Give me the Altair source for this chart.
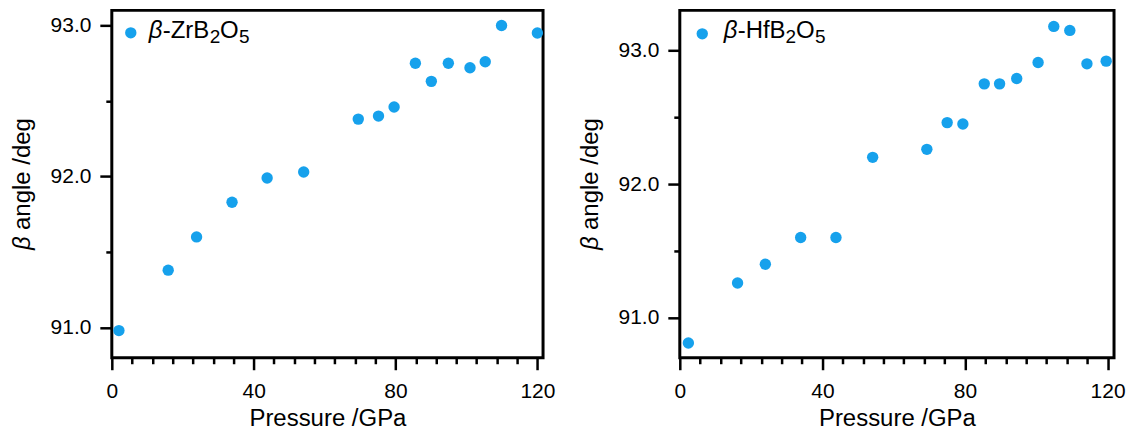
import altair as alt
import pandas as pd

# ---- data ----
zr_pressure = [2.0, 15.9, 23.9, 33.9, 43.8, 54.1, 69.5, 75.2, 79.6, 85.6, 90.1, 94.9, 101.0, 105.3, 109.9, 120.0]
zr_beta = [90.98, 91.38, 91.60, 91.83, 91.99, 92.03, 92.38, 92.40, 92.46, 92.75, 92.63, 92.75, 92.72, 92.76, 93.00, 92.95]
hf_pressure = [2.4, 16.2, 24.0, 33.9, 43.8, 54.1, 69.3, 75.0, 79.4, 85.4, 89.7, 94.5, 100.5, 104.9, 109.4, 114.2, 119.6]
hf_beta = [90.81, 91.26, 91.40, 91.60, 91.60, 92.20, 92.26, 92.46, 92.45, 92.75, 92.75, 92.79, 92.91, 93.18, 93.15, 92.90, 92.92]

x_ticks = [i * 40 / 7 for i in range(22)]
y_ticks = [91.0, 91.5, 92.0, 92.5, 93.0]

COLOR = "#16a1ec"
FONT = "Liberation Sans"
H = 348


def txt(s, x, y, size=24, italic=False, angle=0):
    kw = dict(text=s, font=FONT, fontSize=size, align="left", baseline="alphabetic", color="black")
    if italic:
        kw["fontStyle"] = "italic"
    if angle:
        kw["angle"] = angle
    return alt.Chart(alt.Data(values=[{"a": 1}])).mark_text(**kw).encode(
        x=alt.value(x), y=alt.value(y))


def panel(p, b, ydom, xmax, w, main, pt_xy, tx0, split):
    df = pd.DataFrame({"p": p, "b": b})
    xaxis = alt.Axis(values=x_ticks, title="Pressure /GPa",
                     labelExpr="datum.value % 40 === 0 ? datum.label : ''",
                     format="d", labelOverlap=False, labelFlush=False,
                     tickSize={"condition": {"test": "datum.value % 40 === 0", "value": 12}, "value": 6},
                     labelPadding=11, titlePadding=5)
    yaxis = alt.Axis(values=y_ticks, title=None, format=".1f",
                     labelExpr="datum.value % 1 === 0 ? datum.label : ''",
                     labelOverlap=False,
                     tickSize={"condition": {"test": "datum.value % 1 === 0", "value": 12}, "value": 6},
                     labelPadding=9)
    pts = alt.Chart(df).mark_circle(size=130, color=COLOR, opacity=1).encode(
        x=alt.X("p:Q", scale=alt.Scale(domain=[0, xmax], nice=False, zero=False), axis=xaxis),
        y=alt.Y("b:Q", scale=alt.Scale(domain=ydom, nice=False, zero=False), axis=yaxis),
    )
    leg_pt = alt.Chart(alt.Data(values=[{"a": 1}])).mark_circle(size=130, color=COLOR, opacity=1).encode(
        x=alt.value(pt_xy[0]), y=alt.value(pt_xy[1]))
    base_y = 28
    leg = [
        txt("β", tx0, base_y, italic=True),
        txt(main, tx0 + 14, base_y),
        txt("2", tx0 + 14 + split, base_y + 5, size=19),
        txt("O", tx0 + 14 + split + 10.5, base_y),
        txt("5", tx0 + 14 + split + 29.5, base_y + 5, size=19),
    ]
    ytitle = [
        txt("β", -82, 240, size=24, italic=True, angle=270),
        txt("angle /deg", -82, 220, size=24, angle=270),
    ]
    return alt.layer(pts, leg_pt, *leg, *ytitle).properties(width=w, height=H)


left = panel(zr_pressure, zr_beta, [90.8, 93.1], 121.6, 432, "-ZrB", (19, 22.5), 37, 47)
right = panel(hf_pressure, hf_beta, [90.7, 93.3], 121.8, 435, "-HfB", (22.5, 23.5), 44, 48)

chart = alt.hconcat(left, right, spacing=20).properties(
    padding={"left": 1, "top": 0, "right": 1, "bottom": 0}
).configure_view(stroke="black", strokeWidth=3).configure_axis(
    domain=False, grid=False, tickColor="black", tickWidth=2.5,
    labelFont=FONT, labelFontSize=21, labelColor="black",
    titleFont=FONT, titleFontSize=24, titleColor="black", titleFontWeight="normal",
)

chart.save("out.html", embed_options={"renderer": "svg", "actions": False})
